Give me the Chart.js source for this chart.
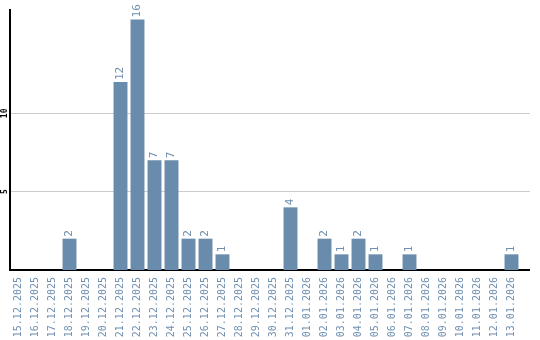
<!DOCTYPE html>
<html>
<head>
<meta charset="utf-8">
<script src="https://cdn.jsdelivr.net/npm/chart.js@4/dist/chart.umd.min.js"></script>
<style>
  html, body { margin: 0; padding: 0; background: #fff; }
  #wrap { width: 540px; height: 340px; }
</style>
</head>
<body>
<div id="wrap"><canvas id="chart"></canvas></div>
<script>
// 日付ごとの件数
const categories = [
  '15.12.2025', '16.12.2025', '17.12.2025', '18.12.2025', '19.12.2025',
  '20.12.2025', '21.12.2025', '22.12.2025', '23.12.2025', '24.12.2025',
  '25.12.2025', '26.12.2025', '27.12.2025', '28.12.2025', '29.12.2025',
  '30.12.2025', '31.12.2025', '01.01.2026', '02.01.2026', '03.01.2026',
  '04.01.2026', '05.01.2026', '06.01.2026', '07.01.2026', '08.01.2026',
  '09.01.2026', '10.01.2026', '11.01.2026', '12.01.2026', '13.01.2026'
];
const counts = [0, 0, 0, 2, 0, 0, 12, 16, 7, 7, 2, 2, 1, 0, 0, 0, 4, 0, 2, 1, 2, 1, 0, 1, 0, 0, 0, 0, 0, 1];
const yTicks = [5, 10];

const barColor = '#6a8cac';
const textColor = '#7090b0';

// バーの上に値を縦書きで表示
const valueLabels = {
  id: 'valueLabels',
  afterDatasetsDraw(chart) {
    const ctx = chart.ctx;
    const meta = chart.getDatasetMeta(0);
    ctx.save();
    ctx.fillStyle = textColor;
    ctx.font = '11px "DejaVu Sans Mono"';
    ctx.textAlign = 'left';
    ctx.textBaseline = 'middle';
    meta.data.forEach((bar, i) => {
      if (!counts[i]) return;
      ctx.save();
      ctx.translate(bar.x, bar.y - 2);
      ctx.rotate(-Math.PI / 2);
      ctx.fillText(String(counts[i]), 0, 0);
      ctx.restore();
    });
    ctx.restore();
  }
};

// グリッド線と軸線を右側に少し延長
const extendLines = {
  id: 'extendLines',
  afterDraw(chart) {
    const ctx = chart.ctx;
    const area = chart.chartArea;
    const y = chart.scales.y;
    ctx.save();
    ctx.lineWidth = 1;
    ctx.strokeStyle = '#cccccc';
    yTicks.forEach(v => {
      const py = Math.round(y.getPixelForValue(v) + 0.5) - 0.5;
      ctx.beginPath();
      ctx.moveTo(area.right, py);
      ctx.lineTo(area.right + 10, py);
      ctx.stroke();
    });
    ctx.strokeStyle = '#000';
    ctx.lineWidth = 2;
    const by = Math.round(y.getPixelForValue(0));
    ctx.beginPath();
    ctx.moveTo(area.right - 1, by);
    ctx.lineTo(area.right + 10, by);
    ctx.stroke();
    ctx.restore();
  }
};

new Chart(document.getElementById('chart'), {
  type: 'bar',
  data: {
    labels: categories,
    datasets: [{
      data: counts,
      backgroundColor: barColor,
      borderWidth: 0,
      categoryPercentage: 1,
      barPercentage: 0.82
    }]
  },
  options: {
    responsive: true,
    maintainAspectRatio: false,
    animation: false,
    layout: { padding: { top: 10, right: 20, left: 0, bottom: 0 } },
    plugins: {
      legend: { display: false },
      tooltip: { enabled: false }
    },
    scales: {
      x: {
        grid: { display: false, drawTicks: false },
        border: { color: '#000', width: 2 },
        ticks: {
          autoSkip: false,
          minRotation: 90,
          maxRotation: 90,
          padding: 7,
          color: textColor,
          font: { family: 'DejaVu Sans Mono', size: 10 }
        },
        afterFit(scale) { scale.height = 70; }
      },
      y: {
        min: 0,
        max: 16.6,
        grid: { color: '#cccccc', drawTicks: false },
        border: { color: '#000', width: 2 },
        afterBuildTicks(scale) {
          scale.ticks = yTicks.map(v => ({ value: v }));
        },
        ticks: {
          minRotation: 90,
          maxRotation: 90,
          crossAlign: 'center',
          padding: 0,
          color: '#000',
          font: { family: 'DejaVu Sans Mono', size: 8, weight: 'bold' }
        },
        afterFit(scale) { scale.width = 10; }
      }
    }
  },
  plugins: [valueLabels, extendLines]
});
</script>
</body>
</html>
